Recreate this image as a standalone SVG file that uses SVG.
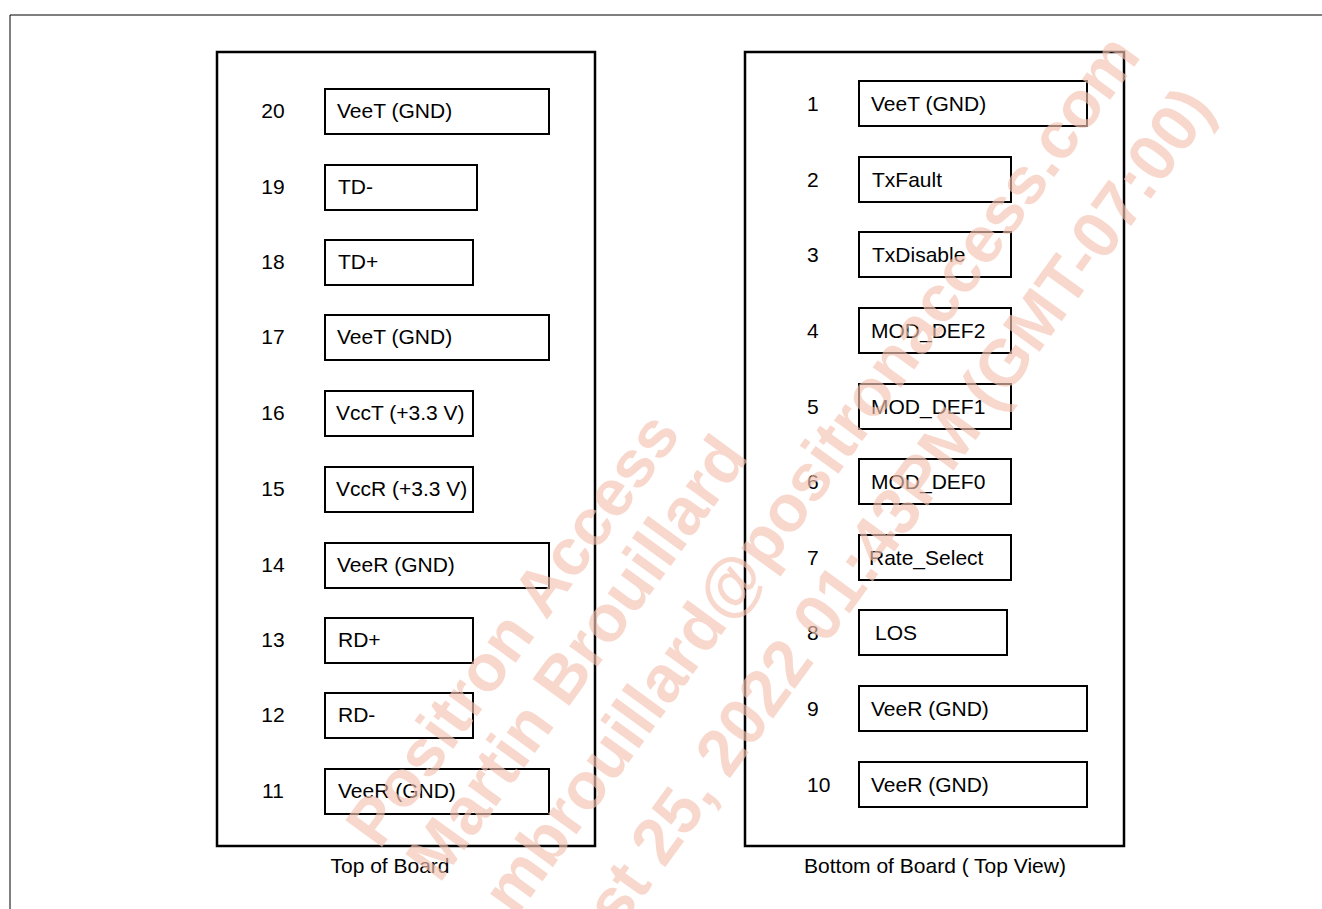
<svg xmlns="http://www.w3.org/2000/svg" width="1322" height="909" viewBox="0 0 1322 909">
<style>
  .frame{fill:none;stroke:#000;stroke-width:1}
  .board{fill:none;stroke:#000;stroke-width:2.5}
  .pin{fill:#fff;stroke:#000;stroke-width:2}
  .t{font-family:"Liberation Sans",Arial,sans-serif;font-size:21px;fill:#000}
  .num{text-anchor:middle}
  .cap{text-anchor:middle}
  .wm{font-family:"Liberation Sans",Arial,sans-serif;font-weight:bold;font-size:66px;fill:#f5c4b2;opacity:0.65;text-anchor:end}
</style>
<rect width="1322" height="909" fill="#fff"/>
<g id="frame">
  <polyline class="frame" points="10,909 10,15 1322,15"/>
</g>
<g id="top-board">
  <rect class="board" x="217" y="52" width="378" height="794"/>
  <text class="t cap" x="390" y="873">Top of Board</text>
</g>
<g id="bottom-board">
  <rect class="board" x="745" y="52" width="379" height="794"/>
  <text class="t cap" x="935" y="873">Bottom of Board ( Top View)</text>
</g>
<g id="pin20"><rect class="pin" x="325" y="89" width="224" height="45"/><text class="t num" x="273" y="118">20</text><text class="t" x="337" y="118">VeeT (GND)</text></g>
<g id="pin19"><rect class="pin" x="325" y="165" width="152" height="45"/><text class="t num" x="273" y="194">19</text><text class="t" x="338" y="194">TD-</text></g>
<g id="pin18"><rect class="pin" x="325" y="240" width="148" height="45"/><text class="t num" x="273" y="269">18</text><text class="t" x="338" y="269">TD+</text></g>
<g id="pin17"><rect class="pin" x="325" y="315" width="224" height="45"/><text class="t num" x="273" y="344">17</text><text class="t" x="337" y="344">VeeT (GND)</text></g>
<g id="pin16"><rect class="pin" x="325" y="391" width="148" height="45"/><text class="t num" x="273" y="420">16</text><text class="t" x="336" y="420">VccT (+3.3 V)</text></g>
<g id="pin15"><rect class="pin" x="325" y="467" width="148" height="45"/><text class="t num" x="273" y="496">15</text><text class="t" x="336" y="496">VccR (+3.3 V)</text></g>
<g id="pin14"><rect class="pin" x="325" y="543" width="224" height="45"/><text class="t num" x="273" y="572">14</text><text class="t" x="337" y="572">VeeR (GND)</text></g>
<g id="pin13"><rect class="pin" x="325" y="618" width="148" height="45"/><text class="t num" x="273" y="647">13</text><text class="t" x="338" y="647">RD+</text></g>
<g id="pin12"><rect class="pin" x="325" y="693" width="148" height="45"/><text class="t num" x="273" y="722">12</text><text class="t" x="338" y="722">RD-</text></g>
<g id="pin11"><rect class="pin" x="325" y="769" width="224" height="45"/><text class="t num" x="273" y="798">11</text><text class="t" x="338" y="798">VeeR (GND)</text></g>

<g id="pin1"><rect class="pin" x="859" y="81" width="228" height="45"/><text class="t" x="807" y="111">1</text><text class="t" x="871" y="111">VeeT (GND)</text></g>
<g id="pin2"><rect class="pin" x="859" y="157" width="152" height="45"/><text class="t" x="807" y="187">2</text><text class="t" x="872" y="187">TxFault</text></g>
<g id="pin3"><rect class="pin" x="859" y="232" width="152" height="45"/><text class="t" x="807" y="262">3</text><text class="t" x="872" y="262">TxDisable</text></g>
<g id="pin4"><rect class="pin" x="859" y="308" width="152" height="45"/><text class="t" x="807" y="338">4</text><text class="t" x="871" y="338">MOD_DEF2</text></g>
<g id="pin5"><rect class="pin" x="859" y="384" width="152" height="45"/><text class="t" x="807" y="414">5</text><text class="t" x="871" y="414">MOD_DEF1</text></g>
<g id="pin6"><rect class="pin" x="859" y="459" width="152" height="45"/><text class="t" x="807" y="489">6</text><text class="t" x="871" y="489">MOD_DEF0</text></g>
<g id="pin7"><rect class="pin" x="859" y="535" width="152" height="45"/><text class="t" x="807" y="565">7</text><text class="t" x="869" y="565">Rate_Select</text></g>
<g id="pin8"><rect class="pin" x="859" y="610" width="148" height="45"/><text class="t" x="807" y="640">8</text><text class="t" x="875" y="640">LOS</text></g>
<g id="pin9"><rect class="pin" x="859" y="686" width="228" height="45"/><text class="t" x="807" y="716">9</text><text class="t" x="871" y="716">VeeR (GND)</text></g>
<g id="pin10"><rect class="pin" x="859" y="762" width="228" height="45"/><text class="t" x="807" y="792">10</text><text class="t" x="871" y="792">VeeR (GND)</text></g>

<g id="connectors"></g>

<g id="watermark" class="wm">
  <text transform="translate(682,434) rotate(-54)">Positron Access</text>
  <text transform="translate(750,457) rotate(-54)">Martin Brouillard</text>
  <text transform="translate(1142,56) rotate(-54)">mbrouillard@positronaccess.com</text>
  <text transform="translate(1216,109) rotate(-54)">August 25, 2022 01:43PM (GMT-07:00)</text>
</g>
</svg>
